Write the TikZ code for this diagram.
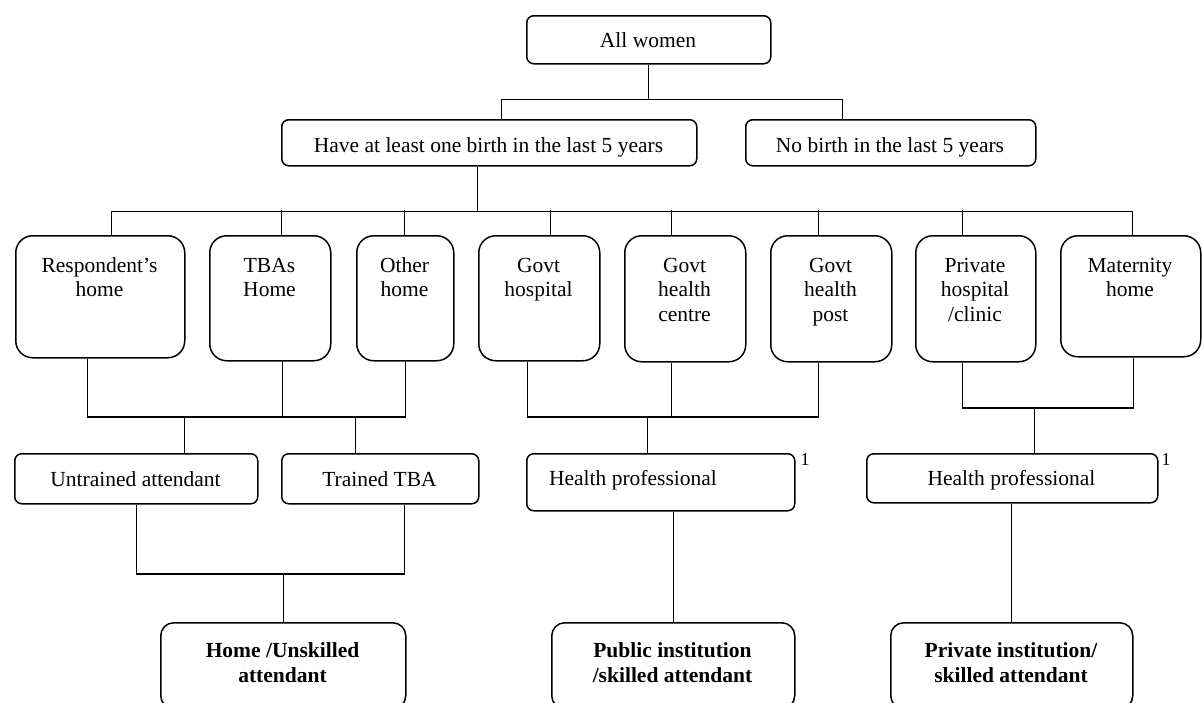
\documentclass[tikz,border=0pt]{standalone}
\usepackage{fontspec}
\setmainfont{Liberation Serif}
\begin{document}
\begin{tikzpicture}[x=1pt,y=-1pt,
  conn/.style={line width=1.4pt},
  thinconn/.style={line width=0.8pt},
  bx/.style={draw, line width=1.5pt, inner sep=0pt, anchor=north west},
  smallbox/.style={bx, rounded corners=7pt},
  rowbox/.style={bx, rounded corners=17pt},
  endbox/.style={bx, rounded corners=13pt},
  txt/.style={font=\fontsize{21.5}{24.5}\selectfont, align=center, inner sep=0pt, anchor=base},
  btxt/.style={txt, font=\fontsize{21.5}{25}\selectfont\bfseries},
  note/.style={font=\fontsize{18}{20}\selectfont, inner sep=0pt}
]
\fill[white] (0,0) rectangle (1202,702);
\useasboundingbox (0,0) rectangle (1202,702);

% top level
\node[smallbox, minimum width=244pt, minimum height=48pt] (aw) at (526,15) {};
\node[txt] (awt) at (648,47) {All women};
\node[smallbox, minimum width=415pt, minimum height=46pt] (have) at (281,119) {};
\node[txt] (havet) at (488.5,152) {Have at least one birth in the last 5 years};
\node[smallbox, minimum width=290pt, minimum height=46pt] (nob) at (745,119) {};
\node[txt] (nobt) at (890,152) {No birth in the last 5 years};

% place of delivery row (base anchor = baseline of last line)
\node[rowbox, minimum width=169pt, minimum height=122pt] (r1) at (15,235) {};
\node[rowbox, minimum width=121pt, minimum height=125pt] (r2) at (209,235) {};
\node[rowbox, minimum width=97pt, minimum height=125pt] (r3) at (356,235) {};
\node[rowbox, minimum width=121pt, minimum height=125pt] (r4) at (478,235) {};
\node[rowbox, minimum width=121pt, minimum height=126pt] (r5) at (624,235) {};
\node[rowbox, minimum width=121pt, minimum height=126pt] (r6) at (770,235) {};
\node[rowbox, minimum width=120pt, minimum height=126pt] (r7) at (915,235) {};
\node[rowbox, minimum width=140pt, minimum height=121pt] (r8) at (1060,235) {};
\node[txt] (r1t) at (99.5,296.5) {Respondent’s\\home};
\node[txt] (r2t) at (269.5,296.5) {TBAs\\Home};
\node[txt] (r3t) at (404.5,296.5) {Other\\home};
\node[txt] (r4t) at (538.5,296.5) {Govt\\hospital};
\node[txt] (r5t) at (684.5,321) {Govt\\health\\centre};
\node[txt] (r6t) at (830.5,321) {Govt\\health\\post};
\node[txt] (r7t) at (975,321) {Private\\hospital\\/clinic};
\node[txt] (r8t) at (1130,296.5) {Maternity\\home};

% attendant row
\node[smallbox, minimum width=243pt, minimum height=50pt] (ua) at (14,453) {};
\node[txt] (uat) at (135.5,486) {Untrained attendant};
\node[smallbox, minimum width=197pt, minimum height=50pt] (tt) at (281,453) {};
\node[txt] (ttt) at (379.5,486) {Trained TBA};
\node[smallbox, minimum width=268pt, minimum height=57pt] (hp1) at (526,453) {};
\node[txt] (hp1t) at (633,485) {Health professional};
\node[note] (n1) at (805,460) {1};
\node[smallbox, minimum width=291pt, minimum height=49pt] (hp2) at (866,453) {};
\node[txt] (hp2t) at (1011.5,485) {Health professional};
\node[note] (n2) at (1166,460) {1};

% outcome row
\node[endbox, minimum width=245pt, minimum height=86pt] (hu) at (160,622) {};
\node[btxt] (hut) at (282.5,682) {Home /Unskilled\\attendant};
\node[endbox, minimum width=243pt, minimum height=86pt] (pub) at (551,622) {};
\node[btxt] (pubt) at (672.5,682) {Public institution\\/skilled attendant};
\node[endbox, minimum width=242pt, minimum height=86pt] (priv) at (890,622) {};
\node[btxt] (privt) at (1011,682) {Private institution/\\skilled attendant};

% connectors: top
\draw[conn] (aw.south) -- ++(0,35) coordinate (j1);
\draw[conn] ([xshift=12.5pt]have.north) |- (j1) -| ([xshift=-48pt]nob.north);
\draw[thinconn] ([xshift=-11.5pt]have.south) -- ++(0,45) coordinate (j2);
\draw[conn] ([xshift=11.5pt]r1.north) |- (j2) -| ([xshift=2pt]r8.north);
\draw[conn] ([xshift=11.5pt]r2.north) -- ++(0,-25);
\draw[conn] ([xshift=-0.5pt]r3.north) -- ++(0,-25);
\draw[conn] ([xshift=11.5pt]r4.north) -- ++(0,-25);
\draw[conn] ([xshift=-13.5pt]r5.north) -- ++(0,-25);
\draw[conn] ([xshift=-12.5pt]r6.north) -- ++(0,-25);
\draw[conn] ([xshift=-13pt]r7.north) -- ++(0,-25);

% connectors: groups
\coordinate (yL) at (0,417);
\coordinate (yR) at (0,408);
\coordinate (yB) at (0,574);
\coordinate (r1s) at ([xshift=-13pt]r1.south);
\coordinate (r2s) at ([xshift=12.5pt]r2.south);
\draw[conn] (r1s) |- (r3.south |- yL) -- (r3.south);
\draw[conn] (r2s) -- (r2s |- yL);
\coordinate (uan) at ([xshift=48.5pt]ua.north);
\coordinate (ttn) at ([xshift=-24.5pt]tt.north);
\draw[conn] (uan) -- (uan |- yL);
\draw[conn] (ttn) -- (ttn |- yL);

\coordinate (r4s) at ([xshift=-11.5pt]r4.south);
\coordinate (r5s) at ([xshift=-13.5pt]r5.south);
\coordinate (r6s) at ([xshift=-12.5pt]r6.south);
\draw[conn] (r4s) |- (r6s |- yL) -- (r6s);
\draw[conn] (r5s) -- (r5s |- yL);
\coordinate (hp1n) at ([xshift=-13pt]hp1.north);
\draw[conn] (hp1n) -- (hp1n |- yL);

\coordinate (r7s) at ([xshift=-13pt]r7.south);
\coordinate (r8s) at ([xshift=3pt]r8.south);
\draw[conn] (r7s) |- (r8s |- yR) -- (r8s);
\coordinate (hp2n) at ([xshift=22.5pt]hp2.north);
\draw[conn] (hp2n) -- (hp2n |- yR);

\coordinate (tts) at ([xshift=24.5pt]tt.south);
\draw[conn] (ua.south) |- (tts |- yB) -- (tts);
\draw[conn] (hu.north) -- (hu.north |- yB);
\draw[conn] (pub.north) -- (pub.north |- hp1.south);
\draw[conn] (priv.north) -- (priv.north |- hp2.south);
\end{tikzpicture}
\end{document}
